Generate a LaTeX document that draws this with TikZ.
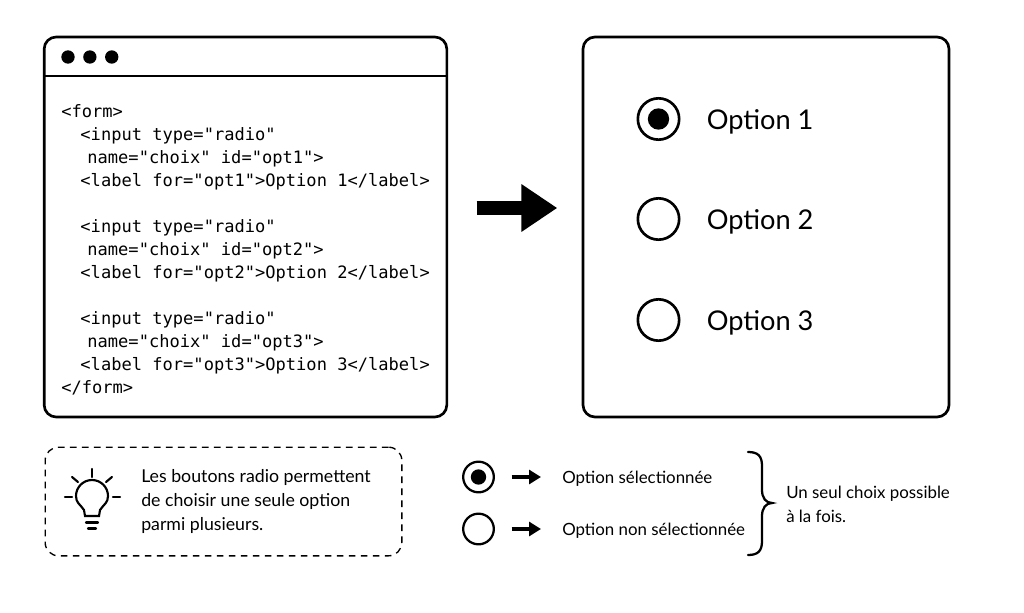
\documentclass[tikz,border=0pt]{standalone}
\usepackage{fontspec}
\setmainfont{Lato}
\newfontfamily\codefont{DejaVu Sans Mono}
\usetikzlibrary{positioning,arrows.meta}
\begin{document}
\begin{tikzpicture}[
    x=0.75pt, y=-0.75pt,
    frame/.style={draw, line width=2pt, rounded corners=9pt},
    radio/.style={circle, draw, line width=2pt, fill=white, inner sep=0pt, minimum size=31pt},
    radiodot/.style={circle, fill=black, inner sep=0pt, minimum size=16pt},
    smallradio/.style={radio, line width=1.7pt, minimum size=23pt},
    smalldot/.style={radiodot, minimum size=11.5pt},
    windot/.style={circle, fill=black, inner sep=0pt, minimum size=10pt},
    optlabel/.style={inner sep=0pt, anchor=west, yshift=-2pt, font=\fontsize{20.4}{25}\selectfont},
    smalltext/.style={inner sep=0pt, anchor=west, align=left, font=\fontsize{12.65}{18}\selectfont},
    tiptxt/.style={smalltext, font=\fontsize{13.3}{18}\selectfont},
    bigarrow/.style={line width=10.5pt, -{Triangle[length=27pt,width=34pt]}, shorten <=21.25pt, shorten >=18.25pt},
    legendarrow/.style={line width=2.4pt, -{Triangle[length=9pt,width=10.5pt]}, shorten <=12.5pt, shorten >=15.75pt},
    bulb/.style={line width=1.6pt, line cap=round}
  ]
    \useasboundingbox (0,0) rectangle (1024,613);

    % Fenetre de code
    \node[frame, minimum width=302pt, minimum height=285pt, inner sep=0pt] (codewin) at (245.5,227) {};
    \draw[line width=2pt] (codewin.west |- 0,76) coordinate (headl) -- (codewin.east |- 0,76) coordinate (headr);
    \node[windot] (dot1) at (68,57) {};
    \node[windot, right=6pt of dot1] (dot2) {};
    \node[windot, right=6pt of dot2] (dot3) {};
    \node[inner sep=0pt, anchor=north west, align=left, font=\codefont\fontsize{12.8}{17.25}\selectfont] (code) at (61,104) {%
      <form>\\
      \hspace*{14.4pt}<input type="radio"\\
      \hspace*{19.6pt}name="choix" id="opt1">\\
      \hspace*{14.4pt}<label for="opt1">Option 1</label>\\[17.25pt]
      \hspace*{14.4pt}<input type="radio"\\
      \hspace*{19.6pt}name="choix" id="opt2">\\
      \hspace*{14.4pt}<label for="opt2">Option 2</label>\\[17.25pt]
      \hspace*{14.4pt}<input type="radio"\\
      \hspace*{19.6pt}name="choix" id="opt3">\\
      \hspace*{14.4pt}<label for="opt3">Option 3</label>\\
      </form>};

    % Rendu
    \node[frame, minimum width=274.5pt, minimum height=285pt, inner sep=0pt] (result) at (766,227) {};
    \node[radio] (opt1) at (658.5,119) {};
    \node[radiodot] (opt1dot) at (opt1) {};
    \node[radio] (opt2) at (658.5,219) {};
    \node[radio] (opt3) at (658.5,320) {};
    \node[optlabel, right=19.5pt of opt1] (optlabel1) {Option 1};
    \node[optlabel, right=19.5pt of opt2] (optlabel2) {Option 2};
    \node[optlabel, right=19.5pt of opt3] (optlabel3) {Option 3};

    % Fleche principale
    \draw[bigarrow] (codewin.east |- 0,208) coordinate (arrowa) -- (result.west |- 0,208) coordinate (arrowb);

    % Astuce
    \node[draw, dashed, line width=1pt, dash pattern=on 5pt off 4pt, rounded corners=10pt,
          minimum width=267.5pt, minimum height=81.5pt, inner sep=0pt] (tipbox) at (223.5,501.5) {};
    \node[tiptxt] (tiptext) at (141,501.5) {Les boutons radio permettent\\de choisir une seule option\\parmi plusieurs.};
    \draw[bulb] (85,516) -- (84,510) .. controls (80,504) and (76,503) .. (76,496)
       arc[start angle=180, end angle=360, radius=16]
       .. controls (108,503) and (104,504) .. (100,510) -- (99,516) -- cycle;
    \draw[bulb] (86,522.5) -- (98,522.5);
    \draw[bulb] (88,528.5) -- (96,528.5);
    \draw[bulb] (92,469) -- (92,477);
    \draw[bulb] (65,497) -- (72,497);
    \draw[bulb] (113,497) -- (120,497);
    \draw[bulb] (72,477) -- (78,482);
    \draw[bulb] (112,477) -- (106,482);

    % Legende
    \node[smallradio] (legendon) at (478.5,477) {};
    \node[smalldot] (legendondot) at (legendon) {};
    \node[smallradio] (legendoff) at (478.5,529) {};
    \node[smalltext] (ontext) at (562,478.5) {Option sélectionnée};
    \node[smalltext] (offtext) at (562,530.5) {Option non sélectionnée};
    \draw[legendarrow] (legendon) -- (legendon -| ontext.west);
    \draw[legendarrow] (legendoff) -- (legendoff -| offtext.west);
    \draw[line width=1.7pt, line cap=round] (748,452) .. controls (758,452) and (762,456) .. (762,466)
       -- (762,490) .. controls (762,498) and (766,503) .. (772,503)
       .. controls (766,503) and (762,508) .. (762,516)
       -- (762,541) .. controls (762,551) and (758,555) .. (748,555);
    \node[smalltext] (choice) at (786,504.5) {Un seul choix possible\\à la fois.};
  \end{tikzpicture}
\end{document}
